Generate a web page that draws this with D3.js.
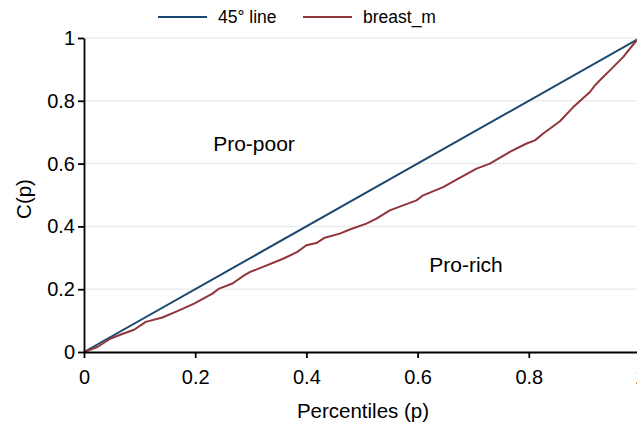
<!DOCTYPE html>
<html lang="en">
<head>
    <meta charset="UTF-8">
    <title>Concentration curve</title>
    <style>
        body { margin: 0; background: #fff; }
        text { font-family: "Liberation Sans", Arial, sans-serif; fill: #000; }
        .grid line { stroke: #ececec; stroke-width: 1.5px; }
        .axis path, .axis line { stroke: #000; stroke-width: 1.8px; }
        .axis text { font-size: 20px; }
    </style>
</head>
<body>
<svg id="svg" width="637" height="425"></svg>
<script src="https://cdn.jsdelivr.net/npm/d3@7"></script>
<script>
    // percentiles and concentration values for breast_m
    const pct = [0, 0.024, 0.048, 0.07, 0.09, 0.111, 0.141, 0.168, 0.198, 0.231, 0.243, 0.267,
        0.288, 0.299, 0.322, 0.358, 0.383, 0.40, 0.418, 0.433, 0.46, 0.478, 0.508, 0.526,
        0.55, 0.568, 0.598, 0.61, 0.646, 0.67, 0.706, 0.73, 0.766, 0.796, 0.811, 0.826,
        0.856, 0.88, 0.91, 0.919, 0.931, 0.946, 0.97, 0.994, 1];
    const conc = [0, 0.016, 0.043, 0.058, 0.071, 0.096, 0.11, 0.13, 0.154, 0.186, 0.202, 0.218,
        0.244, 0.255, 0.271, 0.297, 0.318, 0.34, 0.347, 0.364, 0.377, 0.39, 0.409, 0.425,
        0.451, 0.463, 0.483, 0.499, 0.525, 0.549, 0.584, 0.60, 0.637, 0.664, 0.674, 0.696,
        0.735, 0.78, 0.828, 0.849, 0.871, 0.897, 0.94, 0.993, 1];
    const diag = [0, 1];
    const ticks = [0, 0.2, 0.4, 0.6, 0.8, 1];
    const seriesNames = ["45° line", "breast_m"];
    const colors = ["#1a476f", "#90353b"];

    const svg = d3.select("#svg");
    const x = d3.scaleLinear().domain([0, 1]).range([84, 640]);
    const y = d3.scaleLinear().domain([0, 1]).range([352, 38]);

    // grid
    svg.append("g").attr("class", "grid")
        .selectAll("line").data(ticks.filter(d => d > 0)).enter().append("line")
        .attr("x1", x(0)).attr("x2", 640)
        .attr("y1", d => y(d)).attr("y2", d => y(d));

    const line = d3.line().x(d => x(d[0])).y(d => y(d[1]));

    svg.append("path")
        .datum(diag.map(d => [d, d]))
        .attr("d", line)
        .attr("fill", "none").attr("stroke", colors[0]).attr("stroke-width", 2);

    svg.append("path")
        .datum(pct.map((p, i) => [p, conc[i]]))
        .attr("d", line)
        .attr("fill", "none").attr("stroke", colors[1]).attr("stroke-width", 2)
        .attr("stroke-linejoin", "round");

    // axes
    const xAxis = svg.append("g").attr("class", "axis")
        .attr("transform", "translate(0," + y(0) + ")")
        .call(d3.axisBottom(x).tickValues(ticks).tickFormat(d3.format("~g")).tickSize(6).tickSizeOuter(0).tickPadding(12));
    const yAxis = svg.append("g").attr("class", "axis")
        .attr("transform", "translate(" + x(0) + ",0)")
        .call(d3.axisLeft(y).tickValues(ticks).tickFormat(d3.format("~g")).tickSize(6).tickSizeOuter(0).tickPadding(3));
    xAxis.selectAll("text").attr("fill", "#000");
    yAxis.selectAll("text").attr("fill", "#000");

    // axis titles
    svg.append("text")
        .attr("transform", "translate(31,199) rotate(-90)")
        .attr("text-anchor", "middle")
        .style("font-size", "20.5px")
        .text("C(p)");
    svg.append("text")
        .attr("x", 363).attr("y", 418)
        .attr("text-anchor", "middle")
        .style("font-size", "20.5px")
        .text("Percentiles (p)");

    // region labels
    svg.append("text").attr("x", 254).attr("y", 151)
        .attr("text-anchor", "middle").style("font-size", "21px").text("Pro-poor");
    svg.append("text").attr("x", 466).attr("y", 272)
        .attr("text-anchor", "middle").style("font-size", "21px").text("Pro-rich");

    // legend
    const legendX = [158, 303];
    seriesNames.forEach(function(name, i) {
        svg.append("line")
            .attr("x1", legendX[i]).attr("x2", legendX[i] + 49)
            .attr("y1", 17).attr("y2", 17)
            .attr("stroke", colors[i]).attr("stroke-width", 2);
        svg.append("text")
            .attr("x", legendX[i] + 60).attr("y", 23)
            .style("font-size", "17.5px")
            .text(name);
    });
</script>
</body>
</html>
